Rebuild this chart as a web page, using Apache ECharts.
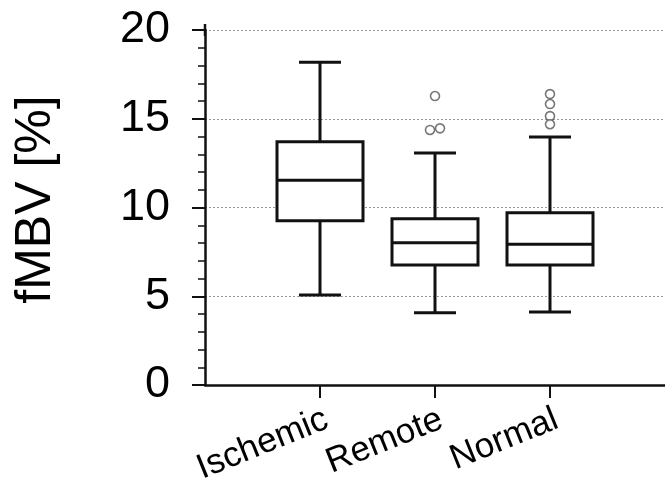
<!DOCTYPE html>
<html>
<head>
<meta charset="utf-8">
<script src="https://cdn.jsdelivr.net/npm/echarts@6/dist/echarts.min.js"></script>
<style>
  html, body { margin: 0; padding: 0; background: #fff; }
  #chart { width: 665px; height: 481px; }
</style>
</head>
<body>
<div id="chart"></div>
<script>
// Groups shown on the x axis
const categories = ['Ischemic', 'Remote', 'Normal'];

// Five-number summaries per group (fMBV, %)
const whiskerLow = [5.07, 4.07, 4.11];
const quartile1 = [9.26, 6.76, 6.76];
const medians = [11.53, 8.02, 7.93];
const quartile3 = [13.71, 9.37, 9.71];
const whiskerHigh = [18.18, 13.07, 13.97];

// Outlying observations per group
const outliersIschemic = [];
const outliersRemote = [16.28, 14.37, 14.46];
const outliersNormal = [16.39, 15.83, 15.15, 14.69];

// Horizontal nudge (px) for overlapping outlier markers
const outlierNudgeRemote = [0, -5, 5];
const outlierNudgeNormal = [0, 0, 0, 0];

// y axis tick labels
const yTicks = [0, 5, 10, 15, 20];

// Category axis with empty slots at both ends so the groups sit at 1, 2, 3
const axisSlots = [''].concat(categories, ['']);

const boxData = categories.map((c, i) => [i + 1, whiskerLow[i], quartile1[i], medians[i], quartile3[i], whiskerHigh[i]]);

const outlierData = [];
[[outliersIschemic, []], [outliersRemote, outlierNudgeRemote], [outliersNormal, outlierNudgeNormal]].forEach((pair, gi) => {
  pair[0].forEach((v, k) => {
    outlierData.push({ value: [gi + 1, v], symbolOffset: [pair[1][k] || 0, 0] });
  });
});

const BOX_W = 86;
const CAP_W = 42;
const INK = '#111';
const FONT = 'Liberation Sans, Arial, sans-serif';

function renderBox(params, api) {
  const x = api.value(0);
  const pLow = api.coord([x, api.value(1)]);
  const pQ1 = api.coord([x, api.value(2)]);
  const pMed = api.coord([x, api.value(3)]);
  const pQ3 = api.coord([x, api.value(4)]);
  const pHigh = api.coord([x, api.value(5)]);
  const cx = pQ1[0];
  const hb = BOX_W / 2, hc = CAP_W / 2;
  const style = { stroke: INK, lineWidth: 3, fill: null };
  return {
    type: 'group',
    children: [
      { type: 'line', shape: { x1: cx, y1: pQ3[1], x2: cx, y2: pHigh[1] }, style: style },
      { type: 'line', shape: { x1: cx, y1: pQ1[1], x2: cx, y2: pLow[1] }, style: style },
      { type: 'line', shape: { x1: cx - hc, y1: pHigh[1], x2: cx + hc, y2: pHigh[1] }, style: style },
      { type: 'line', shape: { x1: cx - hc, y1: pLow[1], x2: cx + hc, y2: pLow[1] }, style: style },
      { type: 'rect', shape: { x: cx - hb, y: pQ3[1], width: BOX_W, height: pQ1[1] - pQ3[1] }, style: { stroke: INK, lineWidth: 3, fill: '#fff' } },
      { type: 'line', shape: { x1: cx - hb, y1: pMed[1], x2: cx + hb, y2: pMed[1] }, style: style }
    ]
  };
}

const chart = echarts.init(document.getElementById('chart'), null, { renderer: 'canvas' });

chart.setOption({
  animation: false,
  backgroundColor: '#fff',
  grid: { left: 205, right: 0, top: 30, bottom: 96, containLabel: false, outerBoundsMode: 'none' },
  xAxis: {
    type: 'category',
    data: axisSlots,
    boundaryGap: false,
    axisLine: { show: true, lineStyle: { color: INK, width: 2.5 } },
    axisTick: {
      show: true, length: 13, lineStyle: { color: INK, width: 2 },
      interval: (idx) => idx >= 1 && idx <= categories.length
    },
    axisLabel: {
      interval: (idx) => idx >= 1 && idx <= categories.length,
      rotate: 22, margin: 17, color: '#000',
      align: 'right', verticalAlign: 'top',
      fontFamily: FONT, fontSize: 35
    },
    splitLine: { show: false }
  },
  yAxis: {
    type: 'value',
    min: yTicks[0], max: yTicks[yTicks.length - 1], interval: 5,
    name: 'fMBV [%]',
    nameLocation: 'middle',
    nameGap: 144,
    nameRotate: 90,
    nameTextStyle: { color: '#000', fontFamily: FONT, fontSize: 50, padding: [0, 0, 0, 16] },
    axisLine: {
      show: true,
      // short stub so the axis runs a little past its top tick
      symbol: ['none', 'rect'],
      symbolSize: [2.5, 12],
      lineStyle: { color: INK, width: 2.5 }
    },
    axisTick: { show: true, length: 13, lineStyle: { color: INK, width: 2 } },
    minorTick: { show: true, splitNumber: 5, length: 7, lineStyle: { color: INK, width: 1.5 } },
    axisLabel: {
      margin: 35, color: '#000',
      fontFamily: FONT, fontSize: 45,
      formatter: (v) => (yTicks.indexOf(v) >= 0 ? String(v) : '')
    },
    splitLine: {
      show: true,
      showMinLine: false,
      lineStyle: { color: '#9a9a9a', width: 1, type: [2, 2] }
    }
  },
  series: [
    {
      type: 'custom',
      name: 'fMBV',
      renderItem: renderBox,
      encode: { x: 0, y: [1, 2, 3, 4, 5] },
      data: boxData,
      z: 3
    },
    {
      type: 'scatter',
      name: 'Outliers',
      data: outlierData,
      symbol: 'circle',
      symbolSize: 9,
      itemStyle: { color: '#fff', borderColor: '#555', borderWidth: 1.6 },
      z: 4
    }
  ]
});
</script>
</body>
</html>
